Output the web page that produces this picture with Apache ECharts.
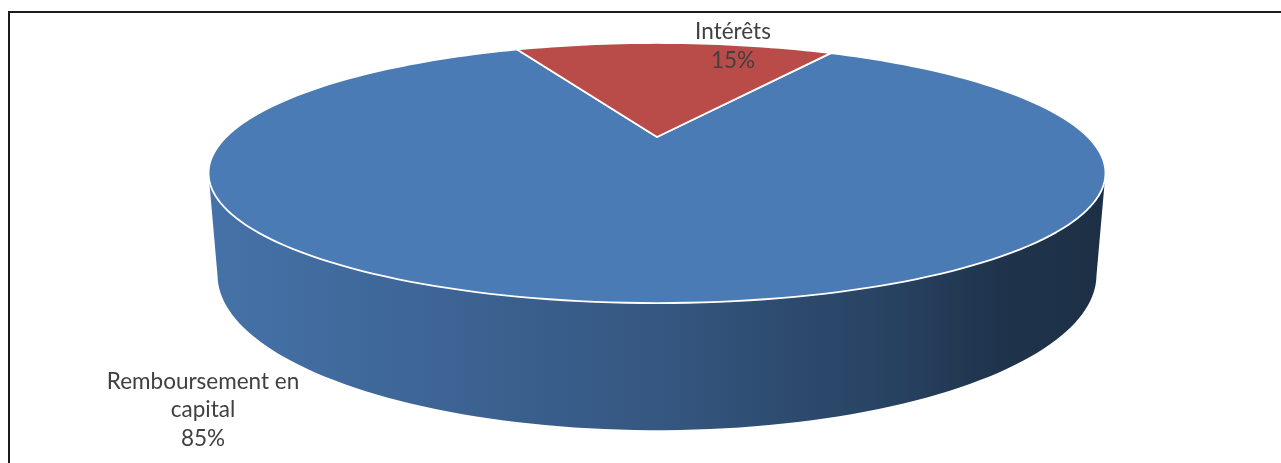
<!DOCTYPE html>
<html>
<head>
<meta charset="utf-8">
<script src="https://cdn.jsdelivr.net/npm/echarts@6/dist/echarts.min.js"></script>
<style>
  html, body { margin: 0; padding: 0; background: #ffffff; }
  #chart { width: 1281px; height: 463px; }
</style>
</head>
<body>
<div id="chart"></div>
<script>
// Breakdown of repayments
const categories = ['Remboursement en\ncapital', 'Intérêts'];
const values = [85, 15];
const sliceColors = ['#4a7bb5', '#b94c48'];

// Perspective view of the 3D pie (radius = 1 unit)
const VIEW = {
  cx: 657, cy: 137,          // screen position of the pie centre (top face)
  focal: 1494,               // focal length in px
  dist: 3.467,               // camera distance in radius units
  tilt: 16.18 * Math.PI / 180,
  height: 0.2354,            // pie thickness in radius units
  startBearing: 30           // first slice starts 30° clockwise from 12 o'clock
};
const LABEL_POS = [
  { x: 203, y: 410 },
  { x: 733, y: 46 }
];

const sinT = Math.sin(VIEW.tilt), cosT = Math.cos(VIEW.tilt);
function project(bearingDeg, level) {
  const t = (90 - bearingDeg) * Math.PI / 180;
  const x = Math.cos(t), z = Math.sin(t), y = level;
  const yp = y * cosT + z * sinT;
  const zp = -y * sinT + z * cosT;
  const k = VIEW.focal / (VIEW.dist + zp);
  return [VIEW.cx + x * k, VIEW.cy - yp * k];
}

// bearings where the side wall turns away from the camera (silhouette)
const silT = Math.asin(cosT / VIEW.dist) * 180 / Math.PI;
const FRONT = [90 + silT, 270 - silT];

function shade(hex, f) {
  const n = parseInt(hex.slice(1), 16);
  const r = Math.round(((n >> 16) & 255) * f);
  const g = Math.round(((n >> 8) & 255) * f);
  const b = Math.round((n & 255) * f);
  return 'rgb(' + r + ',' + g + ',' + b + ')';
}

const total = values.reduce((a, b) => a + b, 0);

function arcPoints(b0, b1, level) {
  const pts = [];
  const steps = Math.max(2, Math.ceil(Math.abs(b1 - b0) / 1.5));
  for (let i = 0; i <= steps; i++) pts.push(project(b0 + (b1 - b0) * i / steps, level));
  return pts;
}

function renderItem(params, api) {
  const idx = params.dataIndex;
  const v = api.value(0);
  let before = 0;
  for (let i = 0; i < idx; i++) before += values[i];
  const b0 = VIEW.startBearing + before / total * 360;
  const b1 = b0 + v / total * 360;
  const base = sliceColors[idx];
  const children = [];

  // front wall: the part of the arc facing the viewer
  [[FRONT[0], FRONT[1]], [FRONT[0] + 360, FRONT[1] + 360]].forEach(function (rng) {
    const s = Math.max(b0, rng[0]), e = Math.min(b1, rng[1]);
    if (e > s) {
      const topArc = arcPoints(s, e, 0);
      const botArc = arcPoints(e, s, -VIEW.height);
      children.push({
        type: 'polygon',
        z2: 1,
        shape: { points: topArc.concat(botArc) },
        style: {
          fill: {
            type: 'linear', x: 208, y: 0, x2: 1105, y2: 0, global: true,
            colorStops: [
              { offset: 0.00, color: shade(base, 0.93) },
              { offset: 0.10, color: shade(base, 0.89) },
              { offset: 0.50, color: shade(base, 0.71) },
              { offset: 0.77, color: shade(base, 0.53) },
              { offset: 0.88, color: shade(base, 0.42) },
              { offset: 1.00, color: shade(base, 0.38) }
            ]
          },
          stroke: null
        }
      });
    }
  });

  // top face
  const top = [[VIEW.cx, VIEW.cy]].concat(arcPoints(b0, b1, 0));
  children.push({
    type: 'polygon',
    z2: 10,
    shape: { points: top },
    style: { fill: base, stroke: '#ffffff', lineWidth: 1.8, lineJoin: 'round' }
  });

  // data label
  const pct = Math.round(v / total * 100) + '%';
  children.push({
    type: 'text',
    z2: 30,
    x: LABEL_POS[idx].x,
    y: LABEL_POS[idx].y,
    style: {
      text: categories[idx] + '\n' + pct,
      fill: '#404040',
      font: '22.5px Lato',
      align: 'center',
      verticalAlign: 'middle',
      lineHeight: 28.5
    }
  });

  return { type: 'group', children: children };
}

const chart = echarts.init(document.getElementById('chart'), null, { renderer: 'canvas' });
chart.setOption({
  animation: false,
  backgroundColor: '#ffffff',
  graphic: [{
    type: 'rect',
    z: 100,
    shape: { x: 9, y: 12, width: 1400, height: 600 },
    style: { fill: null, stroke: '#1c1c1c', lineWidth: 2 }
  }],
  series: [{
    type: 'custom',
    coordinateSystem: 'none',
    renderItem: renderItem,
    data: values.map(function (v, i) { return { value: v, name: categories[i] }; })
  }]
});
</script>
</body>
</html>
